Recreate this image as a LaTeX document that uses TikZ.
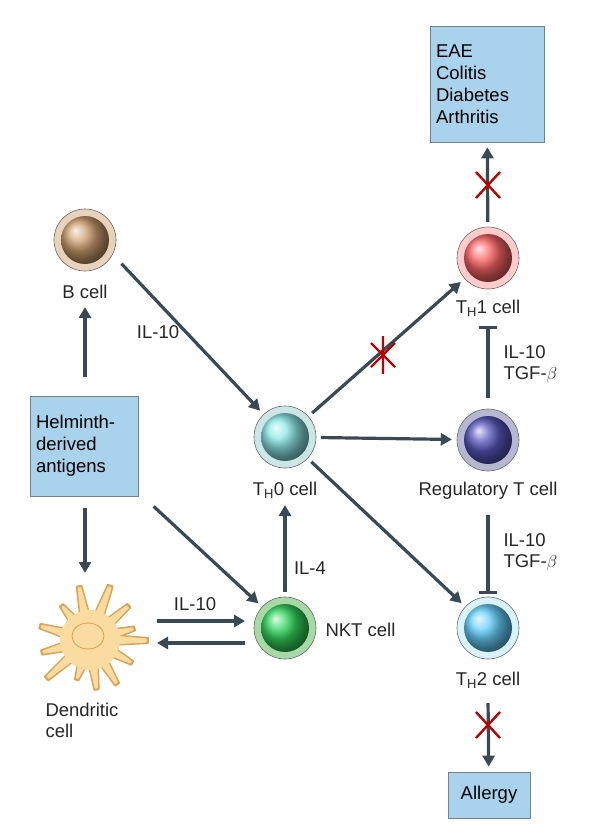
\documentclass[tikz,border=0pt]{standalone}
\usepackage{fontspec}
\setmainfont{Liberation Sans}
\usetikzlibrary{arrows.meta}
\definecolor{ar}{HTML}{3A4A55}
\definecolor{boxc}{HTML}{A9D3EC}
\definecolor{dcf}{HTML}{FADCA0}
\definecolor{dcl}{HTML}{D9A45A}
\begin{document}
\begin{tikzpicture}[x=1pt,y=-1pt,
  lbl/.style={font=\fontsize{18.5}{21}\selectfont,text=black!85},
  arr/.style={draw=ar,line width=3.2pt,shorten >=5pt,shorten <=5pt,-{Triangle[length=11pt,width=12pt]}},
  inh/.style={draw=ar,line width=3.2pt,-{Bar[width=18pt,line width=3.2pt]}},
  bx/.style={draw=ar!70,line width=0.8pt,fill=boxc,align=left,inner sep=4pt,font=\fontsize{18.5}{22}\selectfont},
  xx/.style={draw=red!75!black,line width=2.4pt}]
\useasboundingbox (0,0) rectangle (600,839);
\newcommand\cellc[5]{% name,x,y,outer,inner
  \fill[#4,draw=black!60,line width=0.6pt] (#2,#3) circle (31);
  \shade[ball color=#5] (#2,#3) circle (24);
  \node[circle,minimum size=62pt,inner sep=0pt] (#1) at (#2,#3) {};}
\cellc{b}{85}{240}{brown!35!white}{brown!75!white}
\cellc{th0}{285}{437}{teal!20!white}{teal!40!cyan!45!white}
\cellc{nkt}{285}{628}{green!40!gray!50!white}{green!60!teal!80!white}
\cellc{th1}{488}{258}{red!20!white}{red!60!white}
\cellc{reg}{488}{440}{blue!25!gray!45!white}{blue!45!gray!90!white}
\cellc{th2}{488}{628}{cyan!15!white}{cyan!70!blue!60!white}
% dendritic cell
\begin{scope}[shift={(90,640)}]
\foreach \a/\l in {0/58,28/48,58/52,82/50,108/42,138/58,165/50,195/52,230/45,258/55,290/58,318/52,345/46}{
  \draw[draw=dcl,line width=2pt,line join=round,fill=dcf] (\a-13:22) -- (\a-2:\l) -- (\a+3:\l) -- (\a+13:22) -- cycle;}
\fill[dcf] (0,0) circle (30);
\foreach \a/\l in {0/58,28/48,58/52,82/50,108/42,138/58,165/50,195/52,230/45,258/55,290/58,318/52,345/46}{
  \fill[dcf] (\a-12:22) -- (\a-1.5:\l-2) -- (\a+2.5:\l-2) -- (\a+12:22) -- cycle;}
\draw[dcl,line width=0.9pt] (-2,-4) ellipse (16 and 13);
\end{scope}
\node[minimum size=110pt] (dc) at (90,640) {};
% labels
\node[lbl] at (85,292) {B cell};
\node[lbl] at (285,490) {T\textsubscript{H}0 cell};
\node[lbl,anchor=west] at (322,630) {NKT cell};
\node[lbl] at (488,308) {T\textsubscript{H}1 cell};
\node[lbl] at (488,491) {Regulatory T cell};
\node[lbl] at (488,680) {T\textsubscript{H}2 cell};
\node[lbl,align=left] at (82,720) {Dendritic\\cell};
% boxes
\node[bx,minimum width=108pt,minimum height=100pt,text width=96pt] (hel) at (84,446) {Helminth-\\derived\\antigens};
\node[bx,minimum width=114pt,minimum height=116pt,text width=102pt] (eae) at (487,84) {EAE\\Colitis\\Diabetes\\Arthritis};
\node[bx,minimum width=82pt,minimum height=46pt,align=center] (all) at (489,795) {Allergy};
% arrows
\coordinate (h1) at (85,382); \coordinate (b1) at (85,302);
\draw[arr] (h1) -- (b1);
\coordinate (h2) at (85,503); \coordinate (d1) at (85,578);
\draw[arr] (h2) -- (d1);
\coordinate (b2) at (118,260);
\draw[arr] (b2) -- (th0);
\node[lbl] at (158,332) {IL-10};
\coordinate (h3) at (150,503);
\draw[arr] (h3) -- (nkt);
\coordinate (t0b) at (285,500);
\draw[arr] (nkt) -- (t0b);
\node[lbl] at (310,568) {IL-4};
\coordinate (d2) at (152,621); \coordinate (n2) at (250,621);
\coordinate (d3) at (152,643); \coordinate (n3) at (250,643);
\draw[arr] (d2) -- (n2);
\node[lbl] at (195,604) {IL-10};
\draw[arr] (n3) -- (d3);
\draw[arr] (th0) -- (th1);
\draw[xx] (371,343) -- (395,367) (371,367) -- (395,343) (383,336) -- (383,374);
\draw[arr] (th0) -- (reg);
\draw[arr] (th0) -- (th2);
\draw[arr] (th1) -- (eae);
\draw[xx] (476,172) -- (500,198) (476,198) -- (500,172);
\coordinate (r1) at (488,398); \coordinate (t1b) at (488,326);
\draw[inh] (r1) -- (t1b);
\node[lbl,anchor=west,align=left] at (500,364) {IL-10\\TGF-$\beta$};
\coordinate (r2) at (488,515); \coordinate (t2t) at (488,594);
\draw[inh] (r2) -- (t2t);
\node[lbl,anchor=west,align=left] at (500,552) {IL-10\\TGF-$\beta$};
\coordinate (t2b) at (488,698);
\draw[arr] (t2b) -- (all);
\draw[xx] (476,712) -- (500,738) (476,738) -- (500,712);
\end{tikzpicture}
\end{document}
